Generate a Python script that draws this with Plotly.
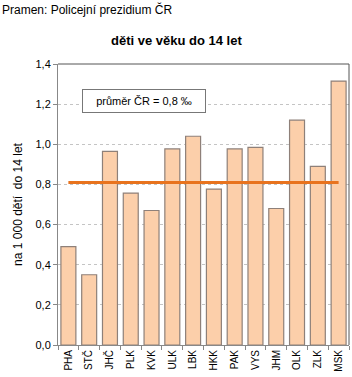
import plotly.graph_objects as go

categories = ["PHA", "STČ", "JHČ", "PLK", "KVK", "ULK", "LBK", "HKK", "PAK", "VYS", "JHM", "OLK", "ZLK", "MSK"]
values = [0.49, 0.35, 0.965, 0.757, 0.67, 0.977, 1.04, 0.777, 0.977, 0.985, 0.68, 1.12, 0.89, 1.315]
average = 0.81
y_ticks = [0.0, 0.2, 0.4, 0.6, 0.8, 1.0, 1.2, 1.4]

W, H = 352, 377
L, R, T, B = 58, 349, 64, 345

fig = go.Figure()
fig.add_trace(go.Bar(
    x=categories, y=values,
    marker=dict(color="#FCCFAA", line=dict(color="#8E8079", width=1.2)),
    width=0.72, showlegend=False, hoverinfo="x+y",
))
fig.add_trace(go.Scatter(
    x=categories, y=[average] * len(categories), mode="lines",
    line=dict(color="#E8731E", width=3), showlegend=False,
))

fig.update_layout(
    width=W, height=H,
    margin=dict(l=L, r=W - R, t=T, b=H - B, pad=0),
    paper_bgcolor="white", plot_bgcolor="white",
    separators=", ",
    font=dict(family="Liberation Sans, Arial, sans-serif", color="#000000", size=11),
    xaxis=dict(
        type="category", tickangle=-90, tickfont=dict(size=10),
        showline=True, linecolor="#888888", linewidth=1,
        ticks="outside", ticklen=4, tickcolor="#888888",
        tickson="boundaries", mirror=False, showgrid=False,
        range=[-0.5, len(categories) - 0.5],
    ),
    yaxis=dict(
        range=[0, 1.4], tickvals=y_ticks, tickformat=".1f",
        tickfont=dict(size=11),
        showline=True, linecolor="#888888", linewidth=1,
        ticks="outside", ticklen=4, tickcolor="#888888",
        showgrid=True, gridcolor="#C4C4C4", griddash="dot", gridwidth=1,
        zeroline=False,
        title=dict(text="na 1 000 dětí  do 14 let", font=dict(size=12), standoff=10),
    ),
    shapes=[
        dict(type="line", xref="paper", yref="paper", x0=0, x1=1, y0=1, y1=1,
             line=dict(color="#555555", width=1)),
        dict(type="line", xref="paper", yref="paper", x0=1, x1=1, y0=0, y1=1,
             line=dict(color="#555555", width=1)),
    ],
    annotations=[
        dict(text="Pramen: Policejní prezidium ČR", xref="paper", yref="paper",
             x=-L / (R - L), y=1 + (T - 10) / (B - T), xanchor="left", yanchor="middle",
             showarrow=False, font=dict(size=12, color="#000000")),
        dict(text="<b>děti ve věku do 14 let</b>", xref="paper", yref="paper",
             x=(176 - L) / (R - L), y=1 + (T - 40) / (B - T), xanchor="center", yanchor="middle",
             showarrow=False, font=dict(size=13, color="#000000")),
        dict(text="průměr ČR = 0,8 ‰", xref="paper", yref="paper",
             x=(144 - L) / (R - L), y=(B - 101) / (B - T), xanchor="center", yanchor="middle",
             showarrow=False, font=dict(size=11, color="#000000"),
             bgcolor="white", bordercolor="#777777", borderwidth=1, borderpad=5,
             width=112),
    ],
)

fig.write_html("out.html")
